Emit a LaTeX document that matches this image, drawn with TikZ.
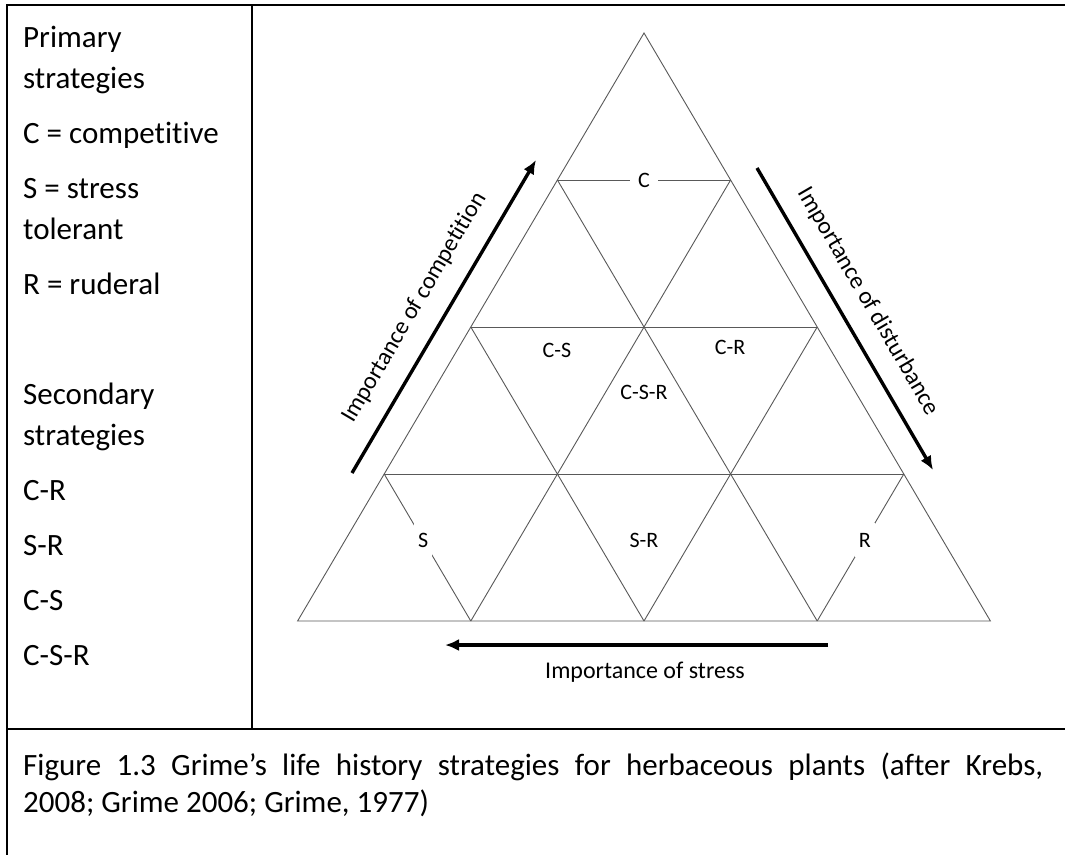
\documentclass[tikz,border=0pt]{standalone}
\usepackage{fontspec}
\setmainfont{Carlito}[Ligatures={NoCommon}]
\usetikzlibrary{arrows.meta}
\begin{document}
\begin{tikzpicture}[x=1pt,y=-1pt,
  frame/.style={line width=2pt, black},
  gridline/.style={line width=0.9pt, black!65},
  axisarrow/.style={line width=3.4pt, -{Latex[length=14pt,width=12pt]}},
  lefttext/.style={anchor=base west, inner sep=0pt, font=\fontsize{31}{37}\selectfont},
  region/.style={font=\fontsize{22}{26}\selectfont, inner sep=0pt, text=black},
  hgap/.style={region, fill=white, inner xsep=8pt, inner ysep=3pt},
  sgap/.style={region, fill=white, inner xsep=4pt, inner ysep=10pt},
  axislabel/.style={font=\fontsize{24}{28}\selectfont, inner sep=0pt, text=black}]
\useasboundingbox (0,0) rectangle (1065,855);
\fill[white] (0,0) rectangle (1065,855);

% table frame
\coordinate (fTR) at (1065,5);
\coordinate (fTL) at (7,5);
\coordinate (fBL) at (7,855);
\coordinate (mT) at (252,5);
\coordinate (mB) at (252,729);
\coordinate (sL) at (7,729);
\coordinate (sR) at (1065,729);
\draw[frame] (fTR) -- (fTL) -- (fBL);
\draw[frame] (mT) -- (mB);
\draw[frame] (sL) -- (sR);

% left column
\node[lefttext] (t1) at (23,47) {Primary};
\node[lefttext] (t2) at (23,88) {strategies};
\node[lefttext] (t3) at (23,143) {C = competitive};
\node[lefttext] (t4) at (23,198) {S = stress};
\node[lefttext] (t5) at (23,239) {tolerant};
\node[lefttext] (t6) at (23,294) {R = ruderal};
\node[lefttext] (t7) at (23,404) {Secondary};
\node[lefttext] (t8) at (23,445) {strategies};
\node[lefttext] (t9) at (23,500) {C-R};
\node[lefttext] (t10) at (23,555) {S-R};
\node[lefttext] (t11) at (23,610) {C-S};
\node[lefttext] (t12) at (23,665) {C-S-R};

% triangle grid points
\foreach \k in {0,...,4}{
  \foreach \j in {0,...,\k}{
    \coordinate (p\k\j) at ({644-86.6*\k+173.2*\j},{33+147*\k});
  }
}
\draw[gridline] (p00) -- (p40) -- (p44) -- cycle;
\draw[gridline] (p20) -- (p22);
\draw[gridline] (p30) -- (p33);
\draw[gridline] (p10) -- (p43);
\draw[gridline] (p20) -- (p42);
\draw[gridline] (p11) -- (p41);
\draw[gridline] (p22) -- (p42);
\draw[gridline] (p10) -- (p11) node[midway, hgap] (lC) {C};
\draw[gridline] (p30) -- (p41) node[pos=0.45, sgap] (lS) {S};
\draw[gridline] (p33) -- (p43) node[pos=0.45, sgap] (lR) {R};

\node[region] (lCS) at (557,350) {C-S};
\node[region] (lCR) at (730,347) {C-R};
\node[region] (lCSR) at (644,392) {C-S-R};
\node[region] (lSR) at (644,540) {S-R};

% axes
\coordinate (cA) at (352,473);
\coordinate (cB) at (536,160);
\draw[axisarrow] (cA) -- (cB) node[pos=0.48, sloped, above=18pt, axislabel] (tComp) {Importance of competition};
\coordinate (dA) at (757,168);
\coordinate (dB) at (933,470);
\draw[axisarrow] (dA) -- (dB) node[pos=0.49, sloped, above=17pt, axislabel] (tDist) {Importance of disturbance};
\coordinate (sA) at (828,645);
\coordinate (sB) at (445,645);
\draw[axisarrow] (sA) -- (sB);
\node[axislabel] (tStress) at (645,672) {Importance of stress};

% caption
\node[lefttext] (cap1) at (23,775) {\makebox[1020pt][s]{Figure 1.3 Grime’s life history strategies for herbaceous plants (after Krebs,}};
\node[lefttext] (cap2) at (23,812) {2008; Grime 2006; Grime, 1977)};
\end{tikzpicture}
\end{document}
